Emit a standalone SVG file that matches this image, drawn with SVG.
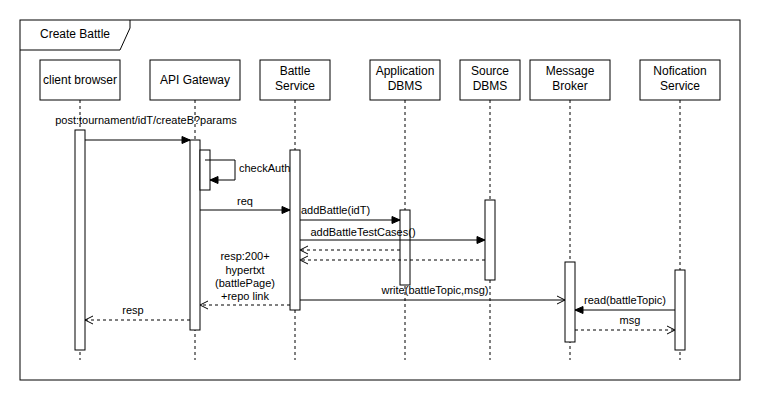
<svg xmlns="http://www.w3.org/2000/svg" width="761" height="401" viewBox="0 0 761 401">
<defs>
<style>
.box{fill:#fff;stroke:#000;stroke-width:1}
.life{stroke:#000;stroke-width:1;stroke-dasharray:3,3;fill:none}
.t{font-family:"Liberation Sans",Arial,sans-serif;font-size:12px;fill:#000;text-anchor:middle}
.m{font-family:"Liberation Sans",Arial,sans-serif;font-size:11px;fill:#000;text-anchor:middle}
.msg{stroke:#000;stroke-width:1;fill:none;marker-end:url(#block)}
.ret{stroke:#000;stroke-width:1;fill:none;stroke-dasharray:3,3;marker-end:url(#open)}
.async{stroke:#000;stroke-width:1;fill:none;marker-end:url(#open)}
</style>
<marker id="block" markerUnits="userSpaceOnUse" markerWidth="10" markerHeight="10" refX="9" refY="5" orient="auto" overflow="visible">
<path d="M1,1.5 L9,5 L1,8.5 Z" fill="#000" stroke="#000"/>
</marker>
<marker id="open" markerUnits="userSpaceOnUse" markerWidth="10" markerHeight="10" refX="9" refY="5" orient="auto" overflow="visible">
<path d="M1,1 L9,5 L1,9" fill="none" stroke="#000"/>
</marker>
</defs>
<rect width="761" height="401" fill="#fff"/>
<g id="frame">
<rect x="20" y="20" width="720" height="360" fill="none" stroke="#000"/>
<path d="M20,50 L120,50 L130,28 L130,20" fill="none" stroke="#000"/>
<text x="75" y="38" class="t">Create Battle</text>
</g>
<g id="client-browser">
<line x1="80" y1="100" x2="80" y2="360" class="life"/>
<rect x="40" y="60" width="80" height="40" class="box"/>
<text x="80" y="84" class="t">client browser</text>
<rect x="75" y="130" width="10" height="220" class="box"/>
</g>
<g id="api-gateway">
<line x1="195" y1="100" x2="195" y2="360" class="life"/>
<rect x="150" y="60" width="90" height="40" class="box"/>
<text x="195" y="84" class="t">API Gateway</text>
<rect x="190" y="140" width="10" height="190" class="box"/>
<rect x="200" y="150" width="10" height="40" class="box"/>
</g>
<g id="battle-service">
<line x1="295" y1="100" x2="295" y2="360" class="life"/>
<rect x="260" y="60" width="70" height="40" class="box"/>
<text x="295" y="75" class="t">Battle</text>
<text x="295" y="90" class="t">Service</text>
<rect x="290" y="150" width="10" height="160" class="box"/>
</g>
<g id="application-dbms">
<line x1="405" y1="100" x2="405" y2="360" class="life"/>
<rect x="370" y="60" width="70" height="40" class="box"/>
<text x="405" y="75" class="t">Application</text>
<text x="405" y="90" class="t">DBMS</text>
<rect x="400" y="210" width="10" height="75" class="box"/>
</g>
<g id="source-dbms">
<line x1="490" y1="100" x2="490" y2="360" class="life"/>
<rect x="460" y="60" width="60" height="40" class="box"/>
<text x="490" y="75" class="t">Source</text>
<text x="490" y="90" class="t">DBMS</text>
<rect x="485" y="200" width="10" height="80" class="box"/>
</g>
<g id="message-broker">
<line x1="570" y1="100" x2="570" y2="360" class="life"/>
<rect x="530" y="60" width="80" height="40" class="box"/>
<text x="570" y="75" class="t">Message</text>
<text x="570" y="90" class="t">Broker</text>
<rect x="565" y="262" width="10" height="80" class="box"/>
</g>
<g id="notification-service">
<line x1="680" y1="100" x2="680" y2="360" class="life"/>
<rect x="640" y="60" width="80" height="40" class="box"/>
<text x="680" y="75" class="t">Nofication</text>
<text x="680" y="90" class="t">Service</text>
<rect x="675" y="270" width="10" height="80" class="box"/>
</g>
<g id="connectors">
<line x1="85" y1="140" x2="190" y2="140" class="msg"/>
<text x="146" y="124" class="m">post:tournament/idT/createB?params</text>
<path d="M205,160 L235,160 L235,180 L210,180" class="msg"/>
<text x="239" y="172" class="m" style="text-anchor:start">checkAuth</text>
<line x1="200" y1="210" x2="290" y2="210" class="msg"/>
<text x="245" y="205" class="m">req</text>
<line x1="300" y1="220" x2="400" y2="220" class="msg"/>
<text x="301" y="214" class="m" style="text-anchor:start">addBattle(idT)</text>
<line x1="300" y1="240" x2="485" y2="240" class="msg"/>
<text x="363" y="236" class="m">addBattleTestCases()</text>
<line x1="400" y1="250" x2="300" y2="250" class="ret"/>
<line x1="485" y1="260" x2="300" y2="260" class="ret"/>
<line x1="290" y1="305" x2="200" y2="305" class="ret"/>
<text x="245" y="260" class="m">resp:200+</text>
<text x="245" y="274" class="m">hypertxt</text>
<text x="245" y="287" class="m">(battlePage)</text>
<text x="245" y="300" class="m">+repo link</text>
<line x1="300" y1="300" x2="565" y2="300" class="async"/>
<text x="435" y="294" class="m">write(battleTopic,msg)</text>
<line x1="675" y1="310" x2="575" y2="310" class="msg"/>
<text x="625" y="304" class="m">read(battleTopic)</text>
<line x1="575" y1="330" x2="675" y2="330" class="ret"/>
<text x="630" y="324" class="m">msg</text>
<line x1="190" y1="320" x2="85" y2="320" class="ret"/>
<text x="133" y="314" class="m">resp</text>
</g>
</svg>
